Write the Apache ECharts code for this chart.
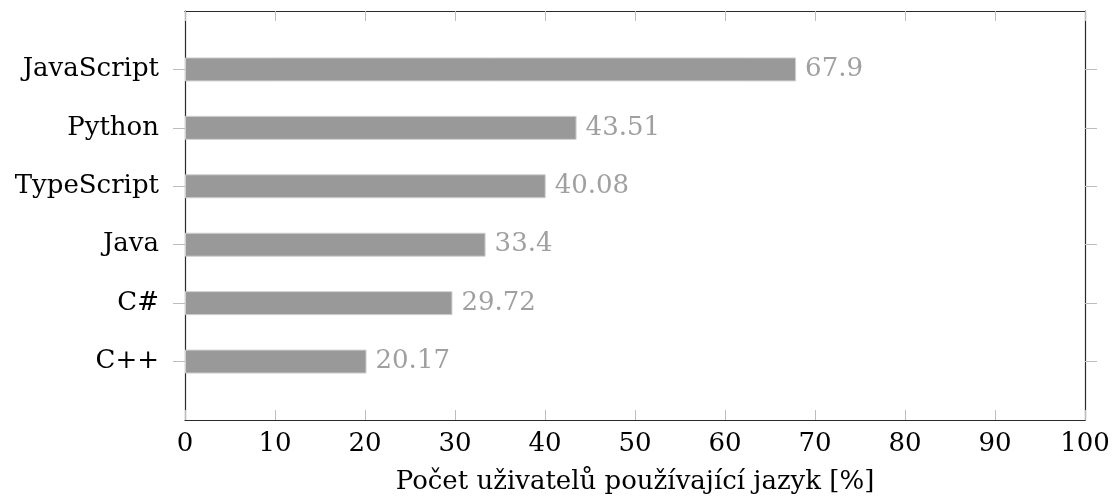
<!DOCTYPE html>
<html>
<head>
<meta charset="utf-8">
<script src="https://cdn.jsdelivr.net/npm/echarts@6/dist/echarts.min.js"></script>
<style>
  html, body { margin: 0; padding: 0; background: #fff; }
  #chart { width: 1116px; height: 501px; }
</style>
</head>
<body>
<div id="chart"></div>
<script>
// languages from bottom to top, as drawn on the y axis
var languages = ['C++', 'C#', 'Java', 'TypeScript', 'Python', 'JavaScript'];
var usage = [20.17, 29.72, 33.4, 40.08, 43.51, 67.9];
var xTicks = [0, 10, 20, 30, 40, 50, 60, 70, 80, 90, 100];
var xName = 'Počet uživatelů používající jazyk [%]';

// one empty slot below and above so the bars sit one step from the frame
var cats = [''].concat(languages, ['']);
var vals = ['-'].concat(usage, ['-']);

var font = 'DejaVu Serif';
var fs = 26;
var tickColor = '#bdbdbd';
var frame = { show: true, onZero: false, lineStyle: { color: '#2a2a2a', width: 1.2 } };
var inner = function (i) { return i > 0 && i < cats.length - 1; };

var chart = echarts.init(document.getElementById('chart'));
chart.setOption({
    animation: false,
    textStyle: { fontFamily: font },
    grid: { left: 185, right: 31, top: 11, bottom: 81 },
    xAxis: [{
        type: 'value',
        position: 'bottom',
        min: xTicks[0], max: xTicks[xTicks.length - 1], interval: 10,
        name: xName,
        nameLocation: 'middle',
        nameGap: 49,
        nameTextStyle: { fontFamily: font, fontSize: fs, color: '#000' },
        axisLine: frame,
        axisTick: { show: true, inside: true, length: 10, lineStyle: { color: tickColor } },
        axisLabel: { fontFamily: font, fontSize: fs, color: '#000', margin: 11 },
        splitLine: { show: false }
    }, {
        type: 'value',
        position: 'top',
        min: xTicks[0], max: xTicks[xTicks.length - 1], interval: 10,
        axisLine: frame,
        axisTick: { show: true, inside: true, length: 10, lineStyle: { color: tickColor } },
        axisLabel: { show: false },
        splitLine: { show: false }
    }],
    yAxis: [{
        type: 'category',
        position: 'left',
        data: cats,
        boundaryGap: false,
        axisLine: frame,
        axisTick: { show: true, length: 12, interval: inner, lineStyle: { color: tickColor } },
        axisLabel: { fontFamily: font, fontSize: fs, color: '#000', margin: 26, interval: 0 },
        splitLine: { show: false }
    }, {
        type: 'category',
        position: 'right',
        data: cats,
        boundaryGap: false,
        axisLine: frame,
        axisTick: { show: true, length: 12, interval: inner, lineStyle: { color: tickColor } },
        axisLabel: { show: false },
        splitLine: { show: false }
    }],
    series: [{
        type: 'bar',
        data: vals,
        barWidth: 24,
        itemStyle: { color: '#999999', borderColor: '#d0d0d0', borderWidth: 1 },
        label: {
            show: true,
            position: 'right',
            distance: 9,
            fontFamily: font,
            fontSize: fs,
            color: '#a0a0a0'
        }
    }]
});
</script>
</body>
</html>
